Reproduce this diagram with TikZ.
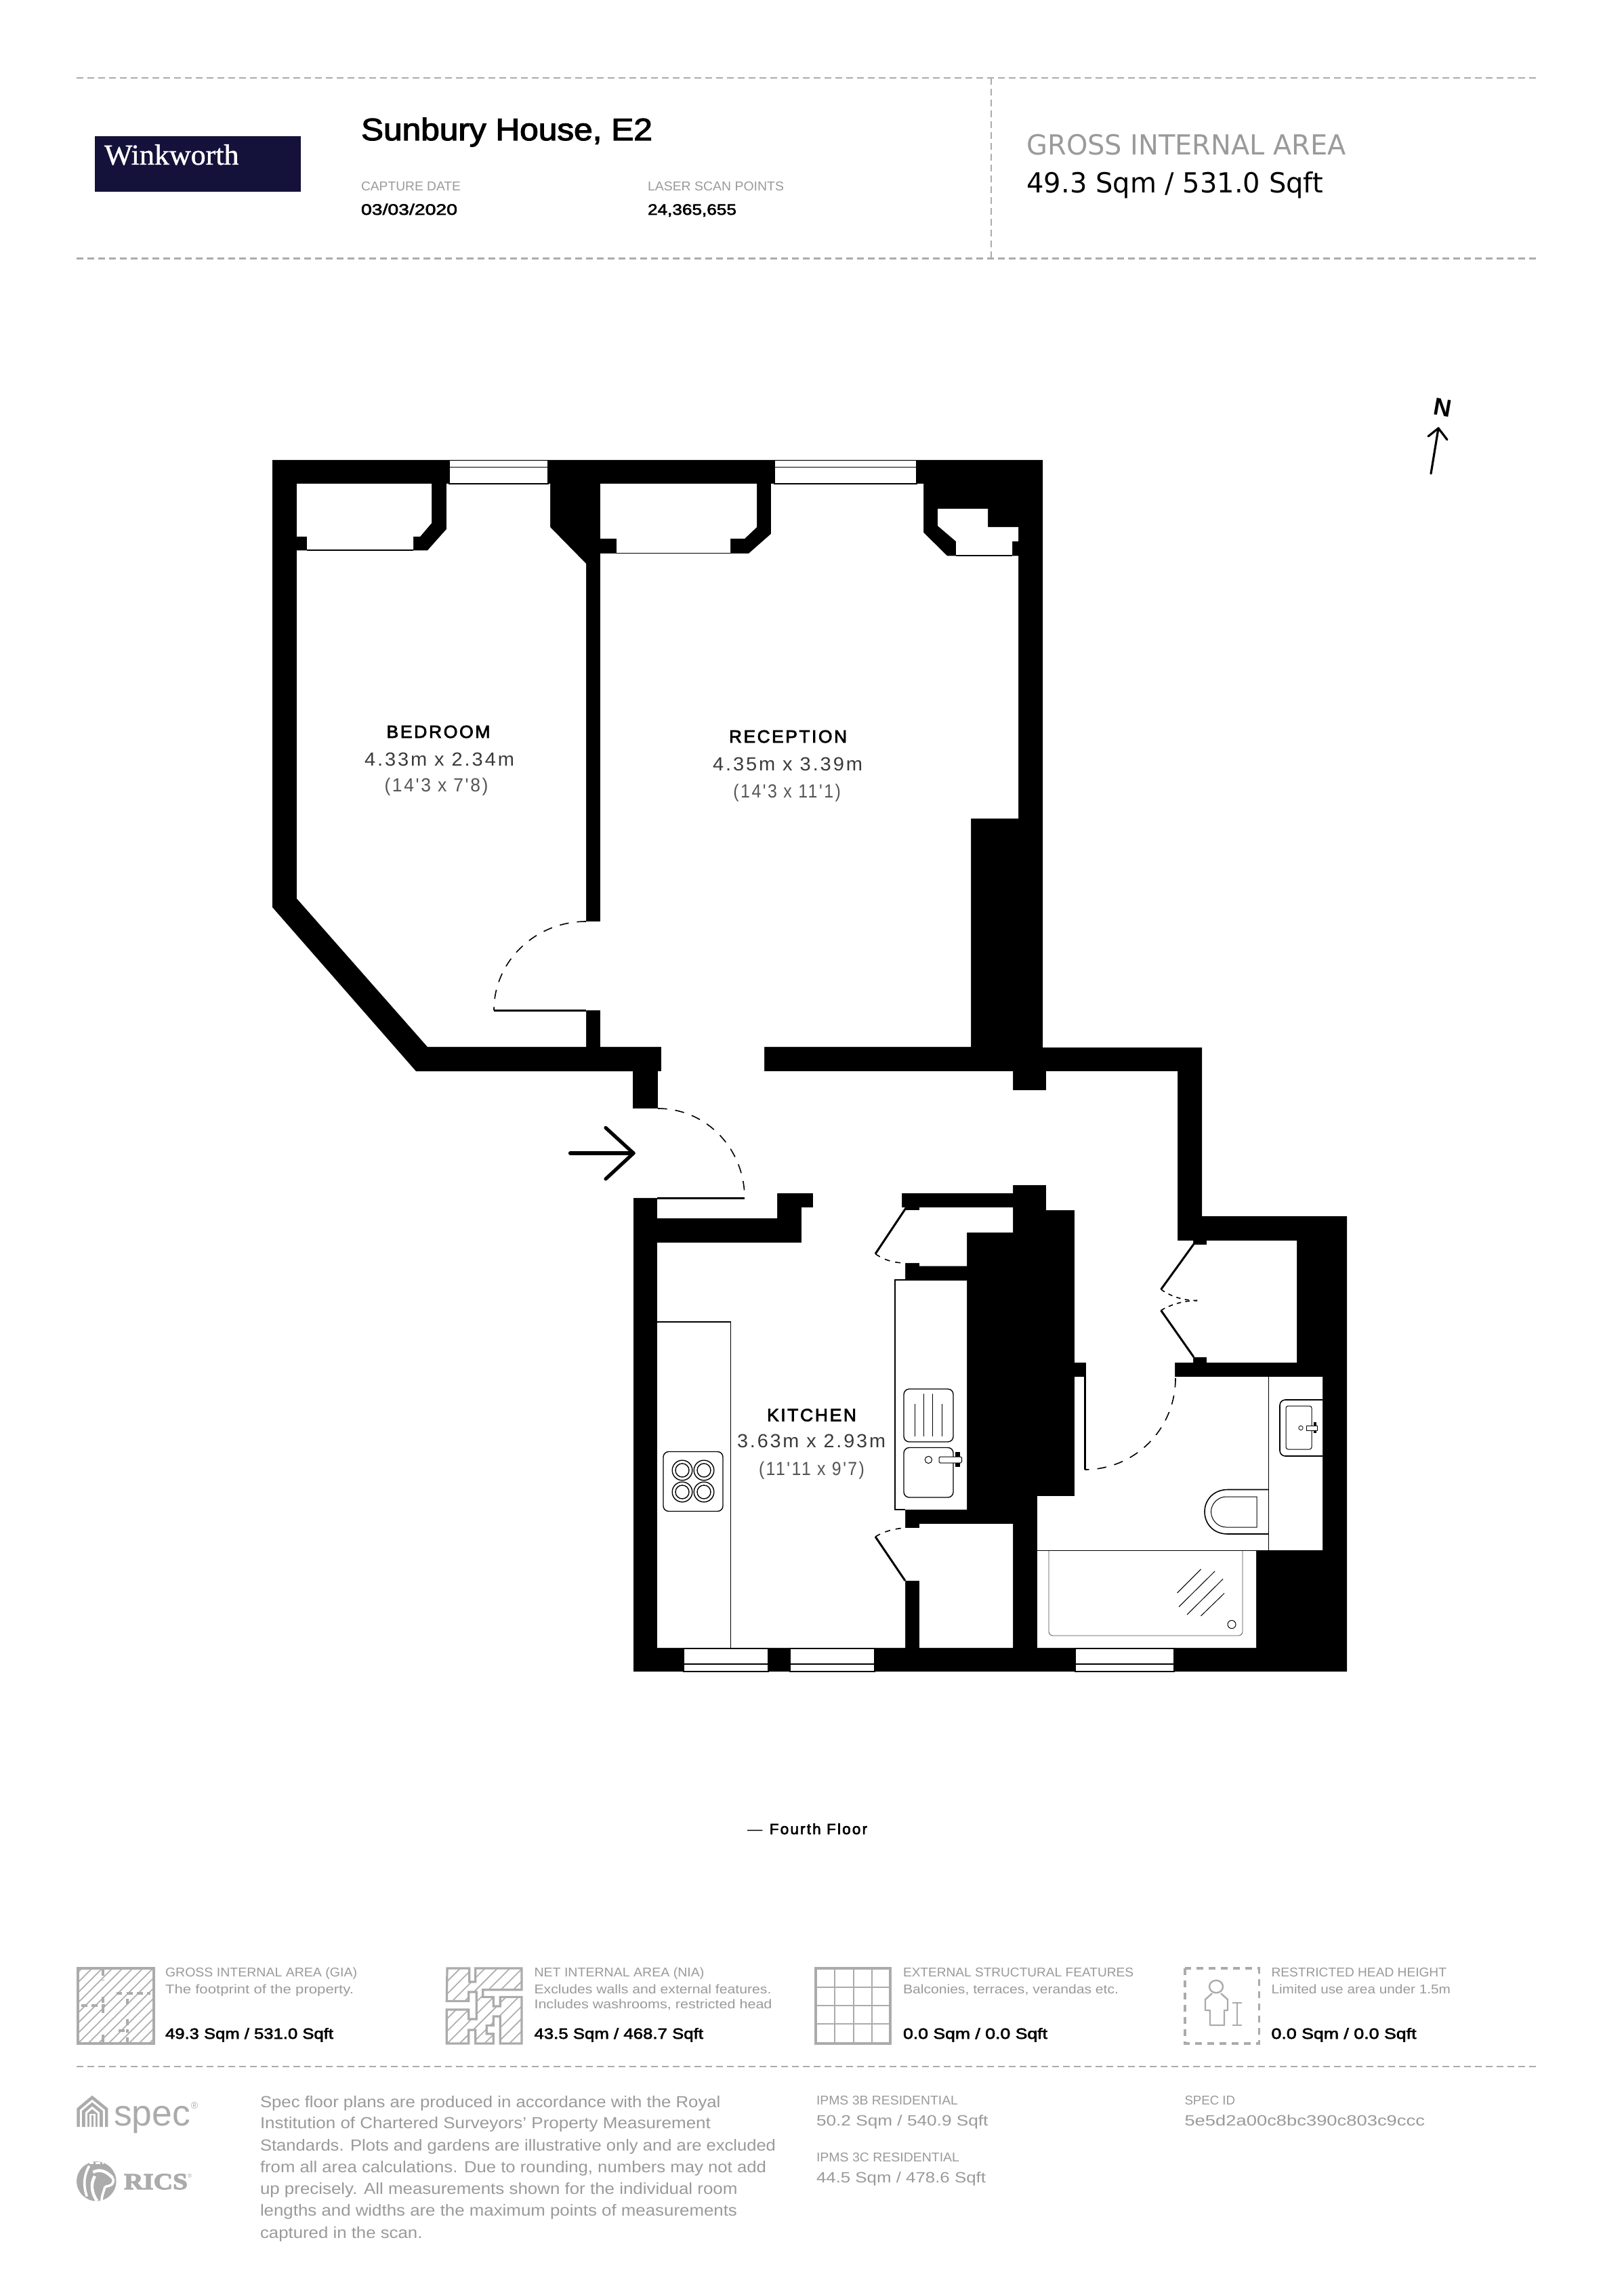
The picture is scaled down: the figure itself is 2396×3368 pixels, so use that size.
\documentclass[tikz,border=0pt]{standalone}
\usepackage{fontspec}
\usepackage{graphicx}
\setmainfont{Liberation Sans}
\newfontfamily\lib{Liberation Sans}
\newfontfamily\libM{Liberation Sans}[FakeBold=2.5]
\newfontfamily\libT{Liberation Sans}[LetterSpace=10]
\newfontfamily\libTB{Liberation Sans}[LetterSpace=10,FakeBold=3]
\newfontfamily\ser{Liberation Serif}[FakeBold=1.2]
\newfontfamily\serB{Liberation Serif Bold}[FakeBold=3]
\newfontfamily\dej{DejaVu Sans}
\newcommand\fm[1]{\fontsize{#1}{#1}\selectfont}
% width given in reference pixels: horizontal fit, height kept
\newcommand\fitw[2]{\resizebox{\dimexpr#1pt/4\relax}{\height}{#2}}
\definecolor{lab}{HTML}{9A9A9A}
\definecolor{rule}{HTML}{ABABAB}
\definecolor{navy}{HTML}{14123A}
\definecolor{dim}{HTML}{3A3A3A}
\definecolor{dimb}{HTML}{555555}
\tikzset{
  txt/.style={anchor=base west,inner sep=0pt,outer sep=0pt},
  ctr/.style={anchor=base,inner sep=0pt,outer sep=0pt},
  wall/.style={fill=black,draw=none},
  room/.style={fill=white,draw=none},
  hair/.style={draw=black,line width=0.3pt},
  leaf/.style={draw=black,line width=0.75pt},
  swing/.style={draw=black,line width=0.4pt,dash pattern=on 3.4pt off 3pt},
  windowbox/.style={fill=white,draw=black,line width=0.3pt},
  ruleline/.style={draw=rule,line width=0.55pt,dash pattern=on 2.5pt off 1.5pt},
  icon/.style={draw=rule,line width=0.8pt},
  fix/.style={draw=black,line width=0.35pt},
}
\begin{document}
\begin{tikzpicture}[x=0.25pt,y=-0.25pt]
\useasboundingbox (0,0) rectangle (2396,3368);
\fill[white] (0,0) rectangle (2396,3368);

% ---------- header
\draw[ruleline] (113,115) -- (2267,115);
\draw[ruleline] (113,381.5) -- (2267,381.5);
\draw[ruleline,line width=0.4pt] (1463,115) -- (1463,381.5);
\fill[navy] (140,201) rectangle (444,283.5);
\node[txt,text=white] (logo) at (154,243) {\fitw{198.5}{\ser\fm{10.75}Winkworth}};
\node[txt] (title) at (533,207) {\fitw{430}{\libM\fm{11.5}Sunbury House, E2}};
\node[txt,text=lab] (capl) at (533,281.7) {\fitw{147}{\lib\fm{4.75}CAPTURE DATE}};
\node[txt] (capv) at (533,317) {\fitw{142}{\libM\fm{5.6}03/03/2020}};
\node[txt,text=lab] (lasl) at (956,281.7) {\fitw{201}{\lib\fm{4.75}LASER SCAN POINTS}};
\node[txt] (lasv) at (956,317) {\fitw{131}{\libM\fm{5.6}24,365,655}};
\node[txt,text=lab] (gial) at (1515.5,229) {\fitw{471.5}{\dej\fm{10.2}GROSS INTERNAL AREA}};
\node[txt] (giav) at (1515.5,285) {\fitw{437.5}{\dej\fm{10.2}49.3 Sqm / 531.0 Sqft}};

% ---------- north arrow
\node[ctr,rotate=-10] (north) at (2127,614) {\fitw{26}{\lib\bfseries\fm{9}N}};
\draw[line width=0.8pt,line cap=round] (2112,699) -- (2123,632);
\draw[line width=0.8pt,line cap=round,line join=round] (2108,644) -- (2123,632) -- (2136,649);

% ---------- building footprint
\fill[wall] (402,679) -- (1539,679) -- (1539,1546) -- (1774,1546) -- (1774,1795) -- (1988,1795)
  -- (1988,2467) -- (935,2467) -- (935,1581) -- (614,1581) -- (402,1339) -- cycle;

% ---------- closets
\fill[room] (438,714) -- (637,714) -- (637,772) -- (620,792) -- (610,792) -- (610,811) -- (453,811) -- (453,792) -- (438,792) -- cycle;
\fill[room] (886,714) -- (1117,714) -- (1117,778) -- (1099,795) -- (1078,795) -- (1078,816) -- (910,816) -- (910,795) -- (886,795) -- cycle;
\fill[room] (1384,751) -- (1458,751) -- (1458,778) -- (1503,778) -- (1503,799) -- (1494,799) -- (1494,819.5) -- (1411,819.5) -- (1411,799) -- (1384,776) -- cycle;

% ---------- all connected rooms
\fill[room] (886,817) -- (1105,817) -- (1138,788) -- (1138,714) -- (1363,714) -- (1363,786) -- (1398,820.5)
  -- (1503,820.5) -- (1503,1208) -- (1433,1208) -- (1433,1545) -- (1128,1545) -- (1128,1581) -- (1495,1581)
  -- (1495,1609) -- (1544,1609) -- (1544,1581) -- (1738,1581) -- (1738,1831) -- (1761,1831) -- (1761,1837)
  -- (1781,1837) -- (1781,1831) -- (1914,1831) -- (1914,2011) -- (1781,2011) -- (1781,2003) -- (1761,2003)
  -- (1761,2011) -- (1734,2011) -- (1734,2032) -- (1952,2032) -- (1952,2288) -- (1854,2288) -- (1854,2432)
  -- (1531,2432) -- (1531,2208) -- (1586,2208) -- (1586,2032) -- (1603,2032) -- (1603,2011) -- (1586,2011)
  -- (1586,1786) -- (1544,1786) -- (1544,1749) -- (1495,1749) -- (1495,1761) -- (1331,1761) -- (1331,1782)
  -- (1336,1782) -- (1336,1786) -- (1357,1786) -- (1357,1782) -- (1495,1782) -- (1495,1819) -- (1427,1819)
  -- (1427,1868.5) -- (1357,1868.5) -- (1357,1864) -- (1336,1864) -- (1336,1889) -- (1427,1889) -- (1427,2228)
  -- (1336,2228) -- (1336,2255) -- (1357,2255) -- (1357,2249) -- (1495,2249) -- (1495,2432) -- (1357,2432)
  -- (1357,2333) -- (1336,2333) -- (1336,2432) -- (970,2432) -- (970,1834) -- (1183,1834) -- (1183,1782)
  -- (1200,1782) -- (1200,1761) -- (1147,1761) -- (1147,1798) -- (970,1798) -- (970,1768) -- (930,1768)
  -- (930,1636) -- (971,1636) -- (971,1581) -- (976,1581) -- (976,1545) -- (886,1545) -- (886,1491)
  -- (865,1491) -- (865,1545) -- (631,1545) -- (438,1326) -- (438,812.5) -- (631,812.5) -- (659,781)
  -- (659,714) -- (812,714) -- (812,778) -- (865,832) -- (865,1360) -- (886,1360) -- cycle;
% pier west of the entry, outer edge
\fill[wall] (934,1581) rectangle (971,1636);
\fill[white] (900,1637) rectangle (935,1768);

% closet fronts
\draw[hair] (453,812) -- (610,812);
\draw[hair] (910,816.5) -- (1078,816.5);
\draw[hair] (1411,820) -- (1494,820);

% ---------- windows
\draw[windowbox] (663,679.5) rectangle (809,714); \draw[hair] (663,689.5) -- (809,689.5);
\draw[windowbox] (1143,679.5) rectangle (1353,714); \draw[hair] (1143,689.5) -- (1353,689.5);
\draw[windowbox] (1009,2433) rectangle (1134,2467); \draw[hair] (1009,2456) -- (1134,2456);
\draw[windowbox] (1166,2433) rectangle (1291,2467); \draw[hair] (1166,2456) -- (1291,2456);
\draw[windowbox] (1587,2433) rectangle (1733,2467); \draw[hair] (1587,2456) -- (1733,2456);

% ---------- doors
\draw[leaf] (729,1491) -- (865,1491);
\draw[swing] (865,1360) .. controls (790,1360) and (729,1419) .. (729,1491);
\draw[leaf] (970,1768) -- (1099,1768);
\draw[swing] (971,1636) .. controls (1042,1636) and (1099,1695) .. (1099,1768);
\draw[leaf] (1601.5,2032) -- (1601.5,2169);
\draw[swing] (1735,2034) .. controls (1735,2109) and (1675,2169) .. (1601,2169);
\draw[leaf] (1337,1783) -- (1292,1850.5);
\draw[swing,dash pattern=on 2pt off 2pt] (1292,1850.5) .. controls (1305,1860) and (1320,1864) .. (1336,1864);
\draw[leaf] (1336,2333) -- (1292,2268);
\draw[swing,dash pattern=on 2pt off 2pt] (1292,2268) .. controls (1305,2260) and (1320,2256) .. (1336,2255);
\draw[leaf] (1762,1836) -- (1713.6,1903);
\draw[swing,dash pattern=on 1.6pt off 1.6pt] (1713.6,1903) .. controls (1730,1915) and (1750,1919.5) .. (1767,1919.5);
\draw[leaf] (1762,2003) -- (1713.6,1934);
\draw[swing,dash pattern=on 1.6pt off 1.6pt] (1713.6,1934) .. controls (1730,1924) and (1750,1919.5) .. (1767,1919.5);

% ---------- entry arrow
\draw[line width=1.3pt,line cap=round] (841.5,1702) -- (935,1702);
\draw[line width=1.3pt,line cap=round,line join=round] (894,1664.5) -- (935,1702) -- (894,1740);

% ---------- kitchen fittings
\draw[fix] (970,1951) -- (1078.5,1951) -- (1078.5,2432);
\draw[fix] (1427,1889) -- (1321,1889) -- (1321,2228) -- (1336,2228);
\draw[fix,rounded corners=2pt] (979,2142.5) rectangle (1067,2230.5);
\foreach \px/\py in {1007/2170,1039/2170,1007/2202,1039/2202}{
  \draw[fix] (\px,\py) circle[radius=3.7pt];
  \draw[fix] (\px,\py) circle[radius=2.5pt];
}
\draw[fix,rounded corners=2pt] (1334,2050) rectangle (1407,2128);
\draw[hair,line width=0.25pt] (1350,2072) -- (1350,2120);
\draw[hair,line width=0.25pt] (1363,2057) -- (1363,2120);
\draw[hair,line width=0.25pt] (1376.5,2057) -- (1376.5,2120);
\draw[hair,line width=0.25pt] (1390,2072) -- (1390,2120);
\draw[fix,rounded corners=2pt] (1334,2136.5) rectangle (1407,2210);
\draw[fix,line width=0.25pt] (1370.4,2154.5) circle[radius=1.3pt];
\fill[black] (1410,2143) rectangle (1417,2165);
\draw[fix,fill=white,line width=0.25pt,rounded corners=0.4pt] (1386,2150) rectangle (1419.5,2159);

% ---------- bathroom fittings
\draw[fix] (1872.5,2032) -- (1872.5,2288);
\draw[hair,line width=0.4pt] (1531,2288.5) -- (1952,2288.5);
\draw[draw=black!70,line width=0.2pt,rounded corners=1.5pt] (1548,2289) -- (1548,2414) -- (1834,2414) -- (1834,2289);
\draw[fix,line width=0.25pt] (1818,2397.5) circle[radius=1.5pt];
\draw[hair,line width=0.25pt] (1737.5,2351) -- (1772.5,2316);
\draw[hair,line width=0.25pt] (1740,2371.5) -- (1793,2319);
\draw[hair,line width=0.25pt] (1752,2383) -- (1805,2330.5);
\draw[hair,line width=0.25pt] (1772.5,2385) -- (1807,2351.5);
\draw[fix,line width=0.4pt] (1872.5,2198.5) -- (1812,2198.5) .. controls (1790,2198.5) and (1778,2215) .. (1778,2231)
   .. controls (1778,2248) and (1790,2264) .. (1812,2264) -- (1872.5,2264);
\draw[fix,line width=0.25pt] (1855,2209) -- (1810,2209) .. controls (1797,2209) and (1787.5,2220) .. (1787.5,2231)
   .. controls (1787.5,2243) and (1797,2254) .. (1810,2254) -- (1855,2254) -- cycle;
\draw[fix,line width=0.4pt,rounded corners=2pt] (1952,2066) -- (1889,2066) -- (1889,2149) -- (1952,2149);
\draw[fix,line width=0.25pt,rounded corners=0.8pt] (1898,2075) rectangle (1936,2139);
\draw[fix,line width=0.2pt] (1920,2107.5) circle[radius=0.8pt];
\fill[black] (1939,2099) rectangle (1943,2115);
\draw[fix,fill=white,line width=0.2pt] (1928,2104) rectangle (1944,2111);

% ---------- room labels
\node[ctr] (bed1) at (647,1089) {\fitw{153}{\libTB\fm{6.5}BEDROOM}};
\node[ctr,text=dim] (bed2) at (648.5,1130) {\fitw{221}{\libT\fm{7}4.33m x 2.34m}};
\node[ctr,text=dimb] (bed3) at (644,1168.5) {\fitw{153}{\libT\fm{7}(14'3 x 7'8)}};
\node[ctr] (rec1) at (1163,1096) {\fitw{174}{\libTB\fm{6.5}RECEPTION}};
\node[ctr,text=dim] (rec2) at (1162.5,1137) {\fitw{221}{\libT\fm{7}4.35m x 3.39m}};
\node[ctr,text=dimb] (rec3) at (1161.7,1177.5) {\fitw{158.5}{\libT\fm{7}(14'3 x 11'1)}};
\node[ctr] (kit1) at (1198,2097.5) {\fitw{132}{\libTB\fm{6.5}KITCHEN}};
\node[ctr,text=dim] (kit2) at (1197.5,2136.5) {\fitw{219}{\libT\fm{7}3.63m x 2.93m}};
\node[ctr,text=dimb] (kit3) at (1198,2177) {\fitw{156}{\libT\fm{7}(11'11 x 9'7)}};

\node[txt] (floor) at (1103,2707) {\fitw{177}{\libTB\fm{5.5}{\lib —}\hspace{0.5pt} Fourth Floor}};

% ---------- footer icons
\draw[icon] (115,2905) rectangle (227,3016);
\begin{scope}
  \clip (115,2905) rectangle (227,3016);
  \foreach \d in {-105,-90,...,105}{\draw[rule,line width=0.4pt] (115+\d,3016) -- (226+\d,2905);}
\end{scope}
\begin{scope}[shift={(100,2890)},x=0.08333pt,y=-0.08333pt]
  \draw[rule,line width=1pt,dash pattern=on 2.2pt off 1.6pt] (215,155) -- (365,155);
  \draw[rule,line width=1pt,dash pattern=on 2.2pt off 1.6pt] (60,210) -- (165,210);
  \draw[rule,line width=1pt,dash pattern=on 2.2pt off 1.6pt] (155,170) -- (155,260);
  \draw[rule,line width=1pt,dash pattern=on 2.2pt off 1.6pt] (155,50) -- (155,100);
  \draw[rule,line width=1pt,dash pattern=on 2.2pt off 1.6pt] (265,180) -- (265,205);
  \draw[rule,line width=1pt,dash pattern=on 2.2pt off 1.6pt] (265,270) -- (265,330);
  \draw[rule,line width=1pt,dash pattern=on 2.2pt off 1.6pt] (225,320) -- (265,320);
  \draw[rule,line width=1pt] (155,340) -- (155,378);
  \draw[rule,line width=1pt] (265,350) -- (265,378);
\end{scope}

\begin{scope}[shift={(650,2890)},x=0.08333pt,y=-0.08333pt]
  \def\niapath{(30,45) -- (128,45) -- (128,105) -- (155,105) -- (155,45) -- (360,45) -- (360,140) -- (188,140) -- (188,172) -- (235,172) -- (235,213) -- (265,213) -- (265,172) -- (360,172) -- (360,378) -- (265,378) -- (265,258) -- (235,258) -- (235,298) -- (205,298) -- (205,335) -- (235,335) -- (235,378) -- (155,378) -- (155,318) -- (125,318) -- (125,378) -- (28,378) -- (28,228) -- (125,228) -- (125,270) -- (160,270) -- (160,150) -- (125,150) -- (125,190) -- (28,190) -- cycle}
  \begin{scope}
    \clip \niapath;
    \foreach \d in {-330,-275,...,330}{\draw[rule,line width=0.4pt] (28+\d,380) -- (363+\d,45);}
  \end{scope}
  \draw[icon] \niapath;
\end{scope}

\draw[icon] (1204,2905) rectangle (1314,3016);
\foreach \gx in {1232,1260,1287}{\draw[rule,line width=0.4pt] (\gx,2905) -- (\gx,3016);}
\foreach \gy in {2933,2960,2987}{\draw[rule,line width=0.6pt] (1204,\gy) -- (1314,\gy);}

\draw[icon,dash pattern=on 2.5pt off 2pt] (1749,2905) rectangle (1858.5,3016);
\draw[rule,line width=0.6pt] (1795,2932) ellipse[x radius=2.5pt,y radius=2.3pt];
\draw[rule,line width=0.6pt,line join=round] (1789,2942) -- (1779,2951) -- (1779,2967) -- (1786,2967) -- (1786,2989) -- (1807,2989) -- (1807,2967) -- (1812,2967) -- (1812,2951) -- (1802,2942);
\draw[rule,line width=0.7pt] (1819,2956) -- (1833,2956);
\draw[rule,line width=0.7pt] (1826,2956) -- (1826,2989);
\draw[rule,line width=0.7pt] (1819,2989) -- (1833,2989);

% ---------- footer texts
\node[txt,text=lab] (f1a) at (244,2917.7) {\fitw{283}{\lib\fm{4.7}GROSS INTERNAL AREA (GIA)}};
\node[txt,text=lab] (f1b) at (244,2942) {\fitw{278}{\lib\fm{4.7}The footprint of the property.}};
\node[txt] (f1c) at (244,3009) {\fitw{248}{\libM\fm{5.5}49.3 Sqm / 531.0 Sqft}};
\node[txt,text=lab] (f2a) at (788.5,2917.7) {\fitw{251}{\lib\fm{4.7}NET INTERNAL AREA (NIA)}};
\node[txt,text=lab] (f2b) at (788.5,2942) {\fitw{350}{\lib\fm{4.7}Excludes walls and external features.}};
\node[txt,text=lab] (f2c) at (788.5,2964) {\fitw{351}{\lib\fm{4.7}Includes washrooms, restricted head}};
\node[txt] (f2d) at (788.5,3009) {\fitw{249.5}{\libM\fm{5.5}43.5 Sqm / 468.7 Sqft}};
\node[txt,text=lab] (f3a) at (1333,2917.7) {\fitw{340}{\lib\fm{4.7}EXTERNAL STRUCTURAL FEATURES}};
\node[txt,text=lab] (f3b) at (1333,2942) {\fitw{318}{\lib\fm{4.7}Balconies, terraces, verandas etc.}};
\node[txt] (f3c) at (1333,3009) {\fitw{213}{\libM\fm{5.5}0.0 Sqm / 0.0 Sqft}};
\node[txt,text=lab] (f4a) at (1876.5,2917.7) {\fitw{258.5}{\lib\fm{4.7}RESTRICTED HEAD HEIGHT}};
\node[txt,text=lab] (f4b) at (1876.5,2942) {\fitw{264.5}{\lib\fm{4.7}Limited use area under 1.5m}};
\node[txt] (f4c) at (1876.5,3009) {\fitw{214}{\libM\fm{5.5}0.0 Sqm / 0.0 Sqft}};

\draw[ruleline] (113,3050) -- (2267,3050);

% spec and RICS marks
\begin{scope}[shift={(100,3080)},x=0.08333pt,y=-0.08333pt]
  \fill[rule] (40,177) -- (40,95) -- (108,38) -- (178,95) -- (178,177) -- cycle;
  \draw[white,line width=0.75pt] (58,180) -- (58,104) -- (108,62) -- (160,104) -- (160,180);
  \draw[white,line width=0.75pt] (82,180) -- (82,115) -- (108,92) -- (136,115) -- (136,180);
  \draw[white,line width=0.6pt] (100,180) -- (100,122) -- (118,122) -- (118,180);
  \fill[rule] (127,418) circle[radius=7.3pt];
  \draw[white,line width=0.9pt] (95,350) .. controls (75,385) and (65,430) .. (85,485);
  \draw[white,line width=1.1pt] (112,378) .. controls (140,362) and (170,372) .. (198,402);
  \draw[white,line width=0.9pt] (198,402) .. controls (210,425) and (195,438) .. (165,442);
  \draw[white,line width=1.1pt] (120,395) .. controls (100,430) and (105,470) .. (130,505);
  \draw[white,line width=0.9pt] (165,442) .. controls (160,465) and (150,480) .. (150,505);
  \draw[white,line width=0.9pt,dash pattern=on 1.6pt off 0.8pt] (95,337) -- (160,337);
\end{scope}
\node[txt,text=rule] (spec) at (168,3137) {\fitw{113}{\lib\fm{13.5}spec}};
\node[ctr,text=rule] (specr) at (287,3112) {\lib\fm{3.5}®};
\node[txt,text=rule] (rics) at (183,3231) {\fitw{94}{\serB\fm{8.5}RICS}};
\node[ctr,text=rule] (ricsr) at (280,3214) {\lib\fm{2.2}®};

\node[txt,text=lab] (p1) at (384,3110) {\fitw{679.5}{\lib\fm{5.9}Spec floor plans are produced in accordance with the Royal}};
\node[txt,text=lab] (p2) at (384,3141.7) {\fitw{665}{\lib\fm{5.9}Institution of Chartered Surveyors’ Property Measurement}};
\node[txt,text=lab] (p3) at (384,3174) {\fitw{761}{\lib\fm{5.9}Standards. Plots and gardens are illustrative only and are excluded}};
\node[txt,text=lab] (p4) at (384,3206.5) {\fitw{747}{\lib\fm{5.9}from all area calculations. Due to rounding, numbers may not add}};
\node[txt,text=lab] (p5) at (384,3238) {\fitw{704.5}{\lib\fm{5.9}up precisely. All measurements shown for the individual room}};
\node[txt,text=lab] (p6) at (384,3270.7) {\fitw{704}{\lib\fm{5.9}lengths and widths are the maximum points of measurements}};
\node[txt,text=lab] (p7) at (384,3303) {\fitw{239.5}{\lib\fm{5.9}captured in the scan.}};

\node[txt,text=lab] (i1a) at (1205,3106) {\fitw{209}{\lib\fm{4.7}IPMS 3B RESIDENTIAL}};
\node[txt,text=lab] (i1b) at (1205,3137) {\fitw{253.5}{\lib\fm{5.5}50.2 Sqm / 540.9 Sqft}};
\node[txt,text=lab] (i2a) at (1205,3190) {\fitw{211}{\lib\fm{4.7}IPMS 3C RESIDENTIAL}};
\node[txt,text=lab] (i2b) at (1205,3221.7) {\fitw{250}{\lib\fm{5.5}44.5 Sqm / 478.6 Sqft}};
\node[txt,text=lab] (s1) at (1748.5,3106) {\fitw{74.5}{\lib\fm{4.7}SPEC ID}};
\node[txt,text=lab] (s2) at (1748.5,3137) {\fitw{354.5}{\lib\fm{5.5}5e5d2a00c8bc390c803c9ccc}};
\end{tikzpicture}
\end{document}
